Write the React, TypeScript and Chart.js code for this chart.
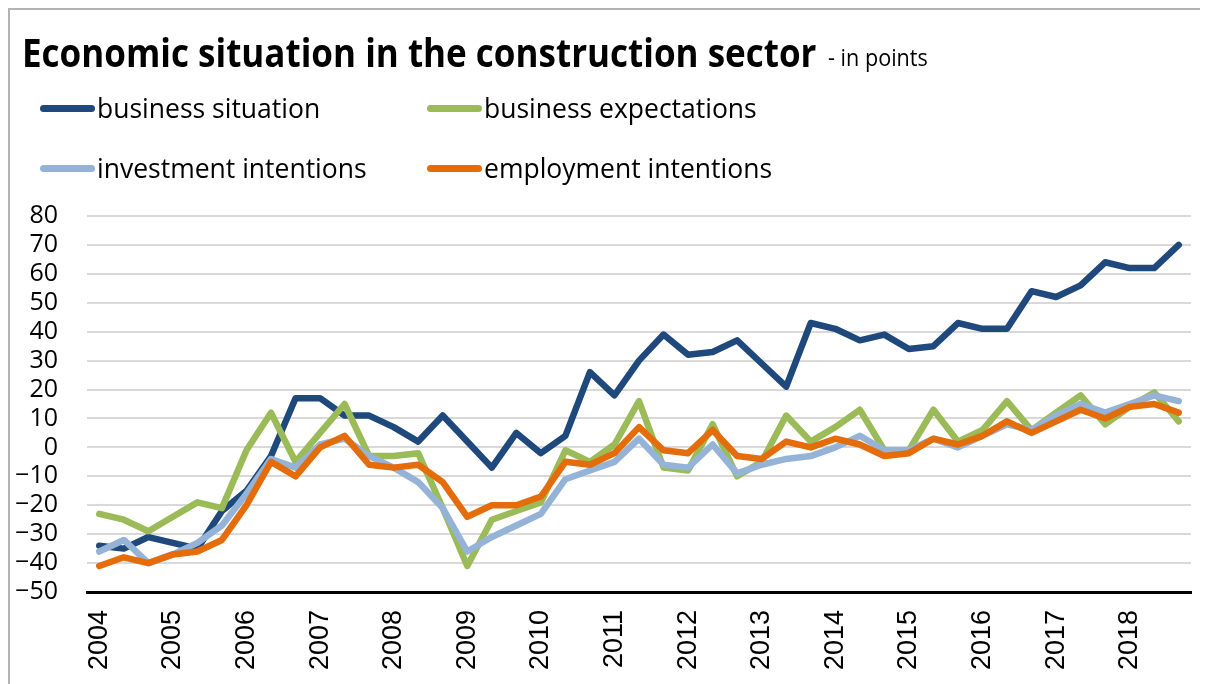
import React, { useEffect, useRef } from 'react';
import { Chart, registerables } from 'chart.js';

Chart.register(...registerables);

// ---- data ----
const years = ['2004', '2005', '2006', '2007', '2008', '2009', '2010', '2011', '2012', '2013', '2014', '2015', '2016', '2017', '2018'];
// three survey points per year; only the first of each year carries the year label
const categories = years.flatMap((y) => [y, '', '']);

const businessSituation = [
  -34, -35, -31, -33, -35, -22, -15, -3, 17, 17, 11, 11, 7, 2, 11,
  2, -7, 5, -2, 4, 26, 18, 30, 39, 32, 33, 37, 29, 21, 43,
  41, 37, 39, 34, 35, 43, 41, 41, 54, 52, 56, 64, 62, 62, 70,
];
const businessExpectations = [
  -23, -25, -29, -24, -19, -21, -1, 12, -5, 5, 15, -3, -3, -2, -21,
  -41, -25, -22, -19, -1, -5, 1, 16, -7, -8, 8, -10, -5, 11, 2,
  7, 13, -1, -1, 13, 2, 6, 16, 6, 12, 18, 8, 14, 19, 9,
];
const investmentIntentions = [
  -36, -32, -40, -37, -33, -27, -16, -4, -7, 1, 3, -3, -7, -12, -21,
  -36, -31, -27, -23, -11, -8, -5, 3, -6, -7, 1, -9, -6, -4, -3,
  0, 4, -1, -1, 3, 0, 4, 8, 6, 11, 15, 12, 15, 18, 16,
];
const employmentIntentions = [
  -41, -38, -40, -37, -36, -32, -20, -5, -10, 0, 4, -6, -7, -6, -12,
  -24, -20, -20, -17, -5, -6, -2, 7, -1, -2, 6, -3, -4, 2, 0,
  3, 1, -3, -2, 3, 1, 4, 9, 5, 9, 13, 10, 14, 15, 12,
];
const yMin = -50;
const yMax = 80;
const yStep = 10;

const titleText = 'Economic situation in the construction sector';
const subtitleText = '- in points';

const series = [
  { label: 'business situation', data: businessSituation, color: '#1f497d', order: 4 },
  { label: 'business expectations', data: businessExpectations, color: '#9bbb59', order: 3 },
  { label: 'investment intentions', data: investmentIntentions, color: '#95b3d7', order: 2 },
  { label: 'employment intentions', data: employmentIntentions, color: '#e46c0a', order: 1 },
];

const legendPos = [
  { left: 32, top: 0 },
  { left: 419, top: 0 },
  { left: 32, top: 60 },
  { left: 419, top: 60 },
];

export default function App() {
  const canvasRef = useRef<HTMLCanvasElement | null>(null);

  useEffect(() => {
    const canvas = canvasRef.current;
    if (!canvas) return;
    const chart = new Chart(canvas, {
      type: 'line',
      data: {
        labels: categories,
        datasets: series.map((s) => ({
          label: s.label,
          data: s.data,
          borderColor: s.color,
          backgroundColor: s.color,
          borderWidth: 6.5,
          pointRadius: 0,
          tension: 0,
          fill: false,
          order: s.order,
          borderCapStyle: 'round' as const,
          borderJoinStyle: 'round' as const,
        })),
      },
      options: {
        animation: false,
        responsive: false,
        devicePixelRatio: 1,
        layout: { padding: { top: 208, right: 17, left: 0, bottom: 0 } },
        plugins: {
          legend: { display: false },
          title: { display: false },
          tooltip: { enabled: false },
        },
        scales: {
          x: {
            offset: true,
            grid: { display: true, color: 'rgba(0,0,0,0)', drawTicks: false },
            border: { display: true, color: '#000000', width: 3 },
            ticks: {
              autoSkip: false,
              maxRotation: 90,
              minRotation: 90,
              padding: 18,
              color: '#000000',
              font: { family: '"Liberation Sans", Arial, sans-serif', size: 27 },
            },
            afterFit: (s: any) => {
              s.height = 92;
              s.paddingLeft = 0;
              s.paddingRight = 0;
            },
          },
          y: {
            min: yMin,
            max: yMax,
            ticks: {
              stepSize: yStep,
              autoSkip: false,
              padding: 29,
              color: '#000000',
              font: { family: '"Open Sans", sans-serif', size: 25 },
              callback: (v: any) => (Number(v) < 0 ? '\u2212' + Math.abs(Number(v)) : String(v)),
            },
            grid: {
              color: (ctx: any) => (ctx.tick && ctx.tick.value === yMin ? 'rgba(0,0,0,0)' : '#d9d9d9'),
              lineWidth: 2,
              drawTicks: false,
            },
            border: { display: false },
            afterFit: (s: any) => {
              s.width = 79;
              s.paddingTop = 0;
              s.paddingBottom = 0;
            },
          },
        },
      },
    });
    return () => chart.destroy();
  }, []);

  return (
    <div style={{ position: 'relative', width: 1200, height: 676, overflow: 'hidden', background: '#fff' }}>
      <canvas ref={canvasRef} width={1200} height={676} style={{ position: 'absolute', left: 0, top: 0, width: 1200, height: 676 }} />
      <div
        style={{
          position: 'absolute',
          left: 0,
          top: 0,
          width: 1400,
          height: 900,
          borderTop: '2px solid #b3b3b3',
          borderLeft: '2px solid #b3b3b3',
          pointerEvents: 'none',
        }}
      />
      <div
        style={{
          position: 'absolute',
          left: 14,
          top: 24,
          whiteSpace: 'nowrap',
          fontFamily: '"Open Sans", sans-serif',
          fontWeight: 700,
          fontSize: 40,
          lineHeight: 1,
          color: '#000',
          transform: 'scaleX(0.875)',
          transformOrigin: 'left top',
        }}
      >
        {titleText}
      </div>
      <div
        style={{
          position: 'absolute',
          left: 820,
          top: 38,
          whiteSpace: 'nowrap',
          fontFamily: '"Open Sans", sans-serif',
          fontSize: 23.5,
          lineHeight: 1,
          color: '#000',
          transform: 'scaleX(0.92)',
          transformOrigin: 'left top',
        }}
      >
        {subtitleText}
      </div>
      {series.map((s, i) => (
        <div key={s.label} style={{ position: 'absolute', left: legendPos[i].left, top: 87 + legendPos[i].top, height: 30 }}>
          <div
            style={{
              position: 'absolute',
              left: 0,
              top: 9.5,
              width: 55,
              height: 7,
              borderRadius: 3.5,
              background: s.color,
            }}
          />
          <div
            style={{
              position: 'absolute',
              left: 57,
              top: -0.5,
              whiteSpace: 'nowrap',
              fontFamily: '"Open Sans", sans-serif',
              fontSize: 26.5,
              lineHeight: 1,
              color: '#000',
            }}
          >
            {s.label}
          </div>
        </div>
      ))}
    </div>
  );
}
